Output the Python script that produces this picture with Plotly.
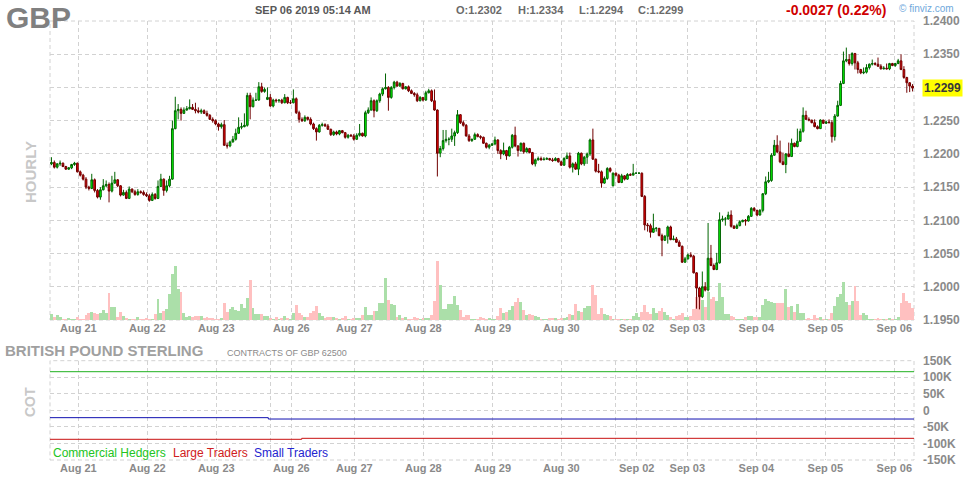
import plotly.graph_objects as go

# ---------------- DATA ----------------
FIRST_OPEN = 1.2185
OPEN_GAPS = {75: 1.2282, 195: 1.2152}

CLOSE = [
 1.2187,1.2180,1.2185,1.2186,1.2181,1.2177,1.2179,1.2184,1.2186,1.2173,
 1.2168,1.2162,1.2150,1.2148,1.2161,1.2145,1.2135,1.2146,1.2152,1.2154,
 1.2144,1.2156,1.2161,1.2152,1.2138,1.2142,1.2133,1.2147,1.2143,1.2139,
 1.2143,1.2142,1.2139,1.2137,1.2130,1.2139,1.2133,1.2151,1.2162,1.2145,
 1.2152,1.2162,1.2238,1.2265,1.2267,1.2261,1.2266,1.2268,1.2270,1.2267,
 1.2265,1.2263,1.2265,1.2261,1.2258,1.2252,1.2250,1.2245,1.2241,1.2244,
 1.2213,1.2212,1.2218,1.2222,1.2231,1.2240,1.2241,1.2243,1.2288,1.2271,
 1.2281,1.2281,1.2301,1.2294,1.2297,1.2285,1.2272,1.2281,1.2280,1.2281,
 1.2277,1.2285,1.2277,1.2277,1.2283,1.2262,1.2252,1.2250,1.2255,1.2252,
 1.2245,1.2238,1.2233,1.2243,1.2244,1.2242,1.2237,1.2229,1.2233,1.2230,
 1.2235,1.2232,1.2225,1.2228,1.2227,1.2222,1.2228,1.2231,1.2227,1.2262,
 1.2266,1.2280,1.2265,1.2280,1.2290,1.2298,1.2300,1.2285,1.2300,1.2308,
 1.2302,1.2306,1.2298,1.2301,1.2295,1.2291,1.2289,1.2280,1.2285,1.2281,
 1.2292,1.2295,1.2280,1.2266,1.2201,1.2208,1.2220,1.2222,1.2222,1.2227,
 1.2232,1.2259,1.2247,1.2243,1.2227,1.2220,1.2222,1.2229,1.2226,1.2225,
 1.2216,1.2210,1.2213,1.2215,1.2221,1.2205,1.2200,1.2205,1.2197,1.2210,
 1.2228,1.2212,1.2205,1.2216,1.2203,1.2208,1.2202,1.2185,1.2191,1.2193,
 1.2191,1.2192,1.2193,1.2191,1.2190,1.2193,1.2188,1.2183,1.2193,1.2197,
 1.2180,1.2185,1.2177,1.2201,1.2185,1.2195,1.2200,1.2221,1.2192,1.2174,
 1.2173,1.2156,1.2163,1.2178,1.2174,1.2171,1.2168,1.2157,1.2167,1.2162,
 1.2169,1.2168,1.2171,1.2171,1.2171,1.2136,1.2093,1.2092,1.2082,1.2088,
 1.2088,1.2077,1.2070,1.2076,1.2090,1.2071,1.2072,1.2067,1.2061,1.2037,
 1.2042,1.2048,1.2046,1.2021,1.1998,1.1985,1.2000,1.1995,1.2043,1.2032,
 1.2026,1.2036,1.2101,1.2102,1.2102,1.2108,1.2091,1.2088,1.2092,1.2098,
 1.2100,1.2099,1.2106,1.2118,1.2115,1.2108,1.2115,1.2140,1.2158,1.2160,
 1.2198,1.2213,1.2203,1.2188,1.2184,1.2200,1.2196,1.2216,1.2211,1.2219,
 1.2234,1.2258,1.2252,1.2251,1.2247,1.2241,1.2238,1.2251,1.2246,1.2248,
 1.2247,1.2226,1.2257,1.2273,1.2306,1.2340,1.2342,1.2336,1.2351,1.2337,
 1.2327,1.2322,1.2323,1.2330,1.2335,1.2336,1.2335,1.2332,1.2328,1.2329,
 1.2328,1.2336,1.2333,1.2336,1.2340,1.2327,1.2315,1.2307,1.2302,1.2299,
]

HIGH = [
 1.2195,1.2190,1.2186,1.2190,1.2187,1.2182,1.2180,1.2185,1.2188,1.2187,
 1.2175,1.2170,1.2165,1.2152,1.2170,1.2163,1.2147,1.2150,1.2162,1.2160,
 1.2157,1.2167,1.2173,1.2162,1.2153,1.2146,1.2145,1.2151,1.2148,1.2146,
 1.2147,1.2145,1.2145,1.2142,1.2140,1.2142,1.2141,1.2160,1.2170,1.2163,
 1.2160,1.2167,1.2250,1.2286,1.2275,1.2270,1.2270,1.2272,1.2282,1.2275,
 1.2277,1.2270,1.2268,1.2267,1.2265,1.2260,1.2255,1.2252,1.2247,1.2247,
 1.2251,1.2217,1.2220,1.2227,1.2238,1.2255,1.2247,1.2261,1.2292,1.2292,
 1.2285,1.2292,1.2308,1.2307,1.2300,1.2300,1.2290,1.2283,1.2283,1.2282,
 1.2283,1.2290,1.2286,1.2281,1.2297,1.2285,1.2265,1.2255,1.2258,1.2256,
 1.2255,1.2247,1.2240,1.2245,1.2247,1.2246,1.2245,1.2238,1.2235,1.2235,
 1.2236,1.2236,1.2233,1.2230,1.2230,1.2230,1.2231,1.2245,1.2232,1.2265,
 1.2270,1.2285,1.2282,1.2282,1.2292,1.2300,1.2321,1.2302,1.2302,1.2310,
 1.2310,1.2308,1.2307,1.2302,1.2303,1.2297,1.2293,1.2292,1.2287,1.2285,
 1.2295,1.2298,1.2297,1.2297,1.2267,1.2212,1.2236,1.2236,1.2225,1.2238,
 1.2235,1.2266,1.2260,1.2250,1.2245,1.2230,1.2223,1.2232,1.2231,1.2228,
 1.2226,1.2217,1.2215,1.2216,1.2226,1.2222,1.2207,1.2217,1.2206,1.2212,
 1.2230,1.2241,1.2213,1.2217,1.2217,1.2210,1.2209,1.2203,1.2193,1.2196,
 1.2196,1.2195,1.2195,1.2194,1.2194,1.2195,1.2194,1.2190,1.2195,1.2202,
 1.2202,1.2187,1.2188,1.2203,1.2202,1.2197,1.2202,1.2223,1.2238,1.2193,
 1.2185,1.2175,1.2166,1.2180,1.2180,1.2172,1.2172,1.2170,1.2170,1.2168,
 1.2171,1.2171,1.2185,1.2172,1.2172,1.2172,1.2138,1.2096,1.2095,1.2110,
 1.2090,1.2088,1.2080,1.2078,1.2092,1.2092,1.2077,1.2075,1.2070,1.2062,
 1.2045,1.2050,1.2052,1.2048,1.2022,1.2000,1.2023,1.2007,1.2096,1.2063,
 1.2035,1.2051,1.2112,1.2107,1.2105,1.2113,1.2115,1.2093,1.2095,1.2100,
 1.2101,1.2102,1.2108,1.2120,1.2120,1.2116,1.2117,1.2141,1.2166,1.2173,
 1.2201,1.2221,1.2228,1.2220,1.2202,1.2201,1.2217,1.2223,1.2217,1.2238,
 1.2238,1.2270,1.2265,1.2255,1.2251,1.2252,1.2243,1.2252,1.2251,1.2250,
 1.2252,1.2251,1.2260,1.2280,1.2310,1.2354,1.2360,1.2350,1.2353,1.2352,
 1.2340,1.2328,1.2330,1.2335,1.2336,1.2342,1.2338,1.2345,1.2335,1.2332,
 1.2336,1.2337,1.2337,1.2337,1.2343,1.2350,1.2332,1.2316,1.2308,1.2305,
]

LOW = [
 1.2183,1.2178,1.2178,1.2182,1.2180,1.2176,1.2176,1.2177,1.2182,1.2172,
 1.2166,1.2160,1.2147,1.2145,1.2147,1.2142,1.2133,1.2131,1.2145,1.2150,
 1.2127,1.2142,1.2155,1.2150,1.2136,1.2137,1.2132,1.2132,1.2141,1.2137,
 1.2137,1.2140,1.2137,1.2135,1.2128,1.2129,1.2131,1.2132,1.2150,1.2137,
 1.2142,1.2150,1.2161,1.2237,1.2252,1.2250,1.2260,1.2265,1.2267,1.2266,
 1.2261,1.2261,1.2260,1.2260,1.2256,1.2251,1.2247,1.2243,1.2235,1.2238,
 1.2212,1.2208,1.2210,1.2217,1.2220,1.2230,1.2237,1.2240,1.2241,1.2252,
 1.2270,1.2280,1.2280,1.2292,1.2292,1.2281,1.2271,1.2270,1.2277,1.2277,
 1.2275,1.2276,1.2275,1.2275,1.2276,1.2260,1.2247,1.2248,1.2248,1.2250,
 1.2243,1.2236,1.2220,1.2232,1.2241,1.2241,1.2236,1.2227,1.2227,1.2228,
 1.2228,1.2231,1.2223,1.2223,1.2226,1.2220,1.2221,1.2226,1.2226,1.2225,
 1.2260,1.2265,1.2255,1.2263,1.2277,1.2287,1.2297,1.2265,1.2283,1.2297,
 1.2301,1.2301,1.2297,1.2297,1.2293,1.2290,1.2286,1.2278,1.2279,1.2279,
 1.2280,1.2291,1.2278,1.2265,1.2166,1.2195,1.2205,1.2217,1.2213,1.2218,
 1.2212,1.2230,1.2245,1.2241,1.2226,1.2218,1.2218,1.2221,1.2225,1.2222,
 1.2215,1.2208,1.2207,1.2212,1.2213,1.2200,1.2192,1.2198,1.2191,1.2196,
 1.2208,1.2210,1.2196,1.2203,1.2200,1.2202,1.2201,1.2183,1.2181,1.2190,
 1.2190,1.2191,1.2191,1.2190,1.2188,1.2189,1.2187,1.2182,1.2182,1.2192,
 1.2178,1.2172,1.2176,1.2168,1.2183,1.2182,1.2185,1.2197,1.2191,1.2172,
 1.2171,1.2149,1.2155,1.2161,1.2172,1.2151,1.2166,1.2156,1.2156,1.2160,
 1.2161,1.2167,1.2168,1.2170,1.2170,1.2135,1.2085,1.2083,1.2074,1.2081,
 1.2083,1.2076,1.2046,1.2069,1.2065,1.2070,1.2070,1.2066,1.2060,1.2036,
 1.2036,1.2041,1.2044,1.2020,1.1967,1.1966,1.1983,1.1993,1.1993,1.2031,
 1.2025,1.2025,1.2035,1.2098,1.2092,1.2101,1.2089,1.2087,1.2087,1.2091,
 1.2097,1.2092,1.2098,1.2105,1.2113,1.2106,1.2107,1.2112,1.2138,1.2156,
 1.2158,1.2197,1.2201,1.2186,1.2183,1.2171,1.2195,1.2196,1.2210,1.2210,
 1.2218,1.2232,1.2251,1.2249,1.2246,1.2240,1.2237,1.2238,1.2245,1.2245,
 1.2246,1.2217,1.2220,1.2256,1.2272,1.2305,1.2338,1.2333,1.2333,1.2327,
 1.2321,1.2320,1.2320,1.2321,1.2327,1.2333,1.2333,1.2331,1.2327,1.2327,
 1.2327,1.2326,1.2332,1.2331,1.2335,1.2326,1.2313,1.2292,1.2293,1.2294,
]

VOLUME = [
 6,3,5,3,1,1,2,1,1,3,
 1,1,5,7,8,7,6,7,10,7,
 27,13,13,3,8,4,2,1,1,1,
 3,1,1,2,1,1,6,21,7,9,
 11,26,46,54,31,28,7,3,4,3,
 4,4,4,2,3,2,2,1,1,2,
 17,8,11,13,10,9,16,12,22,40,
 12,6,6,6,4,4,2,1,3,1,
 2,4,2,1,7,15,7,5,3,3,
 7,9,14,7,4,2,3,3,3,2,
 1,2,4,1,1,2,2,2,5,13,
 5,5,9,9,17,17,42,20,16,15,
 3,5,2,3,1,1,3,2,1,2,
 2,2,5,19,59,35,11,11,16,16,
 24,15,10,3,5,5,1,1,1,3,
 2,1,2,1,1,4,12,7,8,10,
 14,18,22,18,10,5,6,5,4,3,
 1,1,1,2,2,2,1,2,2,3,
 6,5,16,9,8,12,14,14,35,25,
 6,12,6,5,4,1,1,1,1,1,
 1,1,4,7,3,8,15,8,6,12,
 7,9,12,8,5,3,1,4,5,7,
 3,3,4,11,23,32,20,13,28,21,
 23,19,37,23,6,6,4,3,1,1,
 1,3,4,4,3,3,3,15,21,19,
 18,17,17,17,17,31,13,14,8,16,
 7,7,1,2,1,5,2,3,1,1,
 1,7,14,23,26,38,18,15,19,34,
 19,5,7,5,1,1,1,2,1,1,
 1,2,1,1,3,17,27,19,17,12,
]

DAY_LABELS = ["Aug 21", "Aug 22", "Aug 23", "", "Aug 26", "Aug 27", "Aug 28",
              "Aug 29", "Aug 30", "", "Sep 02", "Sep 03", "Sep 04", "Sep 05", "Sep 06"]

PRICE_TICKS = [1.1950, 1.2000, 1.2050, 1.2100, 1.2150, 1.2200, 1.2250, 1.2300, 1.2350, 1.2400]
PRICE_TICK_TEXT = ["1.1950", "1.2000", "1.2050", "1.2100", "1.2150", "1.2200",
                   "1.2250", "1.2300", "1.2350", "1.2400"]

COT_TICKS = [-150000, -100000, -50000, 0, 50000, 100000, 150000]
COT_TICK_TEXT = ["-150K", "-100K", "-50K", "0", "50K", "100K", "150K"]

COT_X_COMMERCIAL = [-0.5, 299.5]
COT_COMMERCIAL = [116800, 116800]
COT_X_SMALL = [-0.5, 75.3, 299.5]
COT_SMALL = [-22100, -26200, -26200]
COT_X_LARGE = [-0.5, 86.9, 299.5]
COT_LARGE = [-87500, -84500, -84500]

SYMBOL = "GBP"
STAMP = "SEP 06 2019 05:14 AM"
OHLC_TEXT = ["O:1.2302", "H:1.2334", "L:1.2294", "C:1.2299"]
CHANGE_TEXT = "-0.0027 (0.22%)"
LAST_PRICE = 1.2299

# ---------------- LAYOUT CONSTANTS ----------------
W, H = 964, 480
PL, PR = 50, 914
P_TOP, P_BOT = 21, 320
C_TOP, C_BOT = 360.7, 460
TICK_POS = [9.33, 33.28, 57.24, 76.13, 83.28, 105.16, 129.12, 153.22, 177.03,
            195.78, 203.22, 220.78, 244.74, 268.7, 292.66]
FONT = "Arial, Liberation Sans, sans-serif"
GRID = "#d2d2d2"
DASH = "4px,3px"
AXIS_TXT = "#8a8a8a"


def fx(px):
    return (px - PL) / (PR - PL)


def fy(py):
    return 1 - py / H


n = len(CLOSE)
xi = list(range(n))
OPEN = [FIRST_OPEN] + CLOSE[:-1]
for k, v in OPEN_GAPS.items():
    OPEN[k] = v

vol_colors = ["#abdfa9" if c >= o else "#ffc0c0" for o, c in zip(OPEN, CLOSE)]

fig = go.Figure()

fig.add_trace(go.Bar(x=xi, y=VOLUME, width=1.0, xaxis="x", yaxis="y",
                     marker=dict(color=vol_colors, line=dict(width=0)),
                     hoverinfo="skip", showlegend=False))

fig.add_trace(go.Candlestick(
    x=xi, open=OPEN, high=HIGH, low=LOW, close=CLOSE, xaxis="x", yaxis="y3",
    increasing=dict(fillcolor="#00ff00", line=dict(color="#006400", width=1)),
    decreasing=dict(fillcolor="#e60000", line=dict(color="#700000", width=1)),
    whiskerwidth=0, showlegend=False))

fig.add_trace(go.Scatter(x=COT_X_COMMERCIAL, y=COT_COMMERCIAL, mode="lines", line_shape="hv",
                         line=dict(color="#1fb01f", width=1), xaxis="x2", yaxis="y2",
                         showlegend=False, hoverinfo="skip"))
fig.add_trace(go.Scatter(x=COT_X_SMALL, y=COT_SMALL, mode="lines", line_shape="hv",
                         line=dict(color="#1010b0", width=1), xaxis="x2", yaxis="y2",
                         showlegend=False, hoverinfo="skip"))
fig.add_trace(go.Scatter(x=COT_X_LARGE, y=COT_LARGE, mode="lines", line_shape="hv",
                         line=dict(color="#c81010", width=1), xaxis="x2", yaxis="y2",
                         showlegend=False, hoverinfo="skip"))

xaxis_common = dict(range=[-0.5, n - 0.5], tickmode="array", tickvals=TICK_POS, ticktext=DAY_LABELS,
                    showgrid=True, gridcolor=GRID, griddash=DASH, gridwidth=1, zeroline=False,
                    showline=False, ticks="", tickfont=dict(family=FONT, size=11, color=AXIS_TXT, weight="bold"),
                    fixedrange=True)

fig.update_layout(
    width=W, height=H,
    margin=dict(l=PL, r=W - PR, t=0, b=0, autoexpand=False),
    paper_bgcolor="white", plot_bgcolor="white",
    showlegend=False, bargap=0, boxgap=0.15,
    xaxis=dict(domain=[0, 1], anchor="y", rangeslider=dict(visible=False), **xaxis_common),
    yaxis=dict(domain=[fy(P_BOT), fy(P_TOP)], range=[0, P_BOT - P_TOP], visible=False,
               showgrid=False, zeroline=False, fixedrange=True),
    yaxis3=dict(overlaying="y", anchor="x", side="right", range=[1.1950, 1.2400], tickmode="array",
                tickvals=PRICE_TICKS, ticktext=PRICE_TICK_TEXT, showgrid=True, gridcolor=GRID,
                griddash=DASH, zeroline=False, showline=False, ticks="", ticklabelstandoff=8,
                tickfont=dict(family=FONT, size=12, color=AXIS_TXT, weight="bold"), fixedrange=True),
    xaxis2=dict(domain=[0, 1], anchor="y2", **xaxis_common),
    yaxis2=dict(domain=[fy(C_BOT), fy(C_TOP)], anchor="x2", side="right", range=[-150000, 150000],
                tickmode="array", tickvals=COT_TICKS, ticktext=COT_TICK_TEXT, showgrid=True,
                gridcolor=GRID, griddash=DASH, zeroline=False, showline=False, ticks="",
                ticklabelstandoff=8,
                tickfont=dict(family=FONT, size=12, color=AXIS_TXT, weight="bold"), fixedrange=True),
)

# dashed panel borders
for top, bot in [(P_TOP, P_BOT), (C_TOP, C_BOT)]:
    fig.add_shape(type="rect", xref="paper", yref="paper", x0=0, x1=1, y0=fy(bot), y1=fy(top),
                  line=dict(color=GRID, width=1, dash=DASH), layer="below")


def txt(text, px, py, size, color, bold=False, xanchor="left", angle=0, bg=None):
    fig.add_annotation(text=text, xref="paper", yref="paper", x=fx(px), y=fy(py),
                       xanchor=xanchor, yanchor="middle", showarrow=False, textangle=angle,
                       bgcolor=bg, borderpad=1,
                       font=dict(family=FONT, size=size, color=color, weight="bold" if bold else "normal"))


txt(SYMBOL, 4, 18, 30, "#808080", bold=True)
txt(STAMP, 253, 10.5, 11, "#585858", bold=True)
for s, px in zip(OHLC_TEXT, [454, 516, 577, 636]):
    txt(s, px, 10.5, 11, "#6a6a6a", bold=True)
txt(CHANGE_TEXT, 784, 10, 14, "#d00000", bold=True)
txt("\u00a9 finviz.com", 897, 8, 10, "#6fa8dc")
txt("HOURLY", 30, 172, 15, "#c8c8c8", bold=True, xanchor="center", angle=-90)
txt("COT", 30, 402, 14, "#c8c8c8", bold=True, xanchor="center", angle=-90)
txt("BRITISH POUND STERLING", 3, 350, 15, "#a0a0a0", bold=True)
txt("CONTRACTS OF GBP 62500", 225, 353, 9, "#8a8a8a")
txt("Commercial Hedgers", 51, 452.5, 12, "#22c422")
txt("Large Traders", 171, 452.5, 12, "#d02020")
txt("Small Traders", 252, 452.5, 12, "#2424d0")

# last price highlight
fig.add_annotation(text=f"{LAST_PRICE:.4f}", xref="paper", yref="y3", x=fx(922), y=LAST_PRICE,
                   xanchor="left", yanchor="middle", showarrow=False, bgcolor="#ffff00", borderpad=1,
                   font=dict(family=FONT, size=12, color="#3a3a3a", weight="bold"))

fig.write_html("out.html", config={"displayModeBar": False},
               post_script="document.body.style.margin='0px';document.body.style.padding='0px';")
